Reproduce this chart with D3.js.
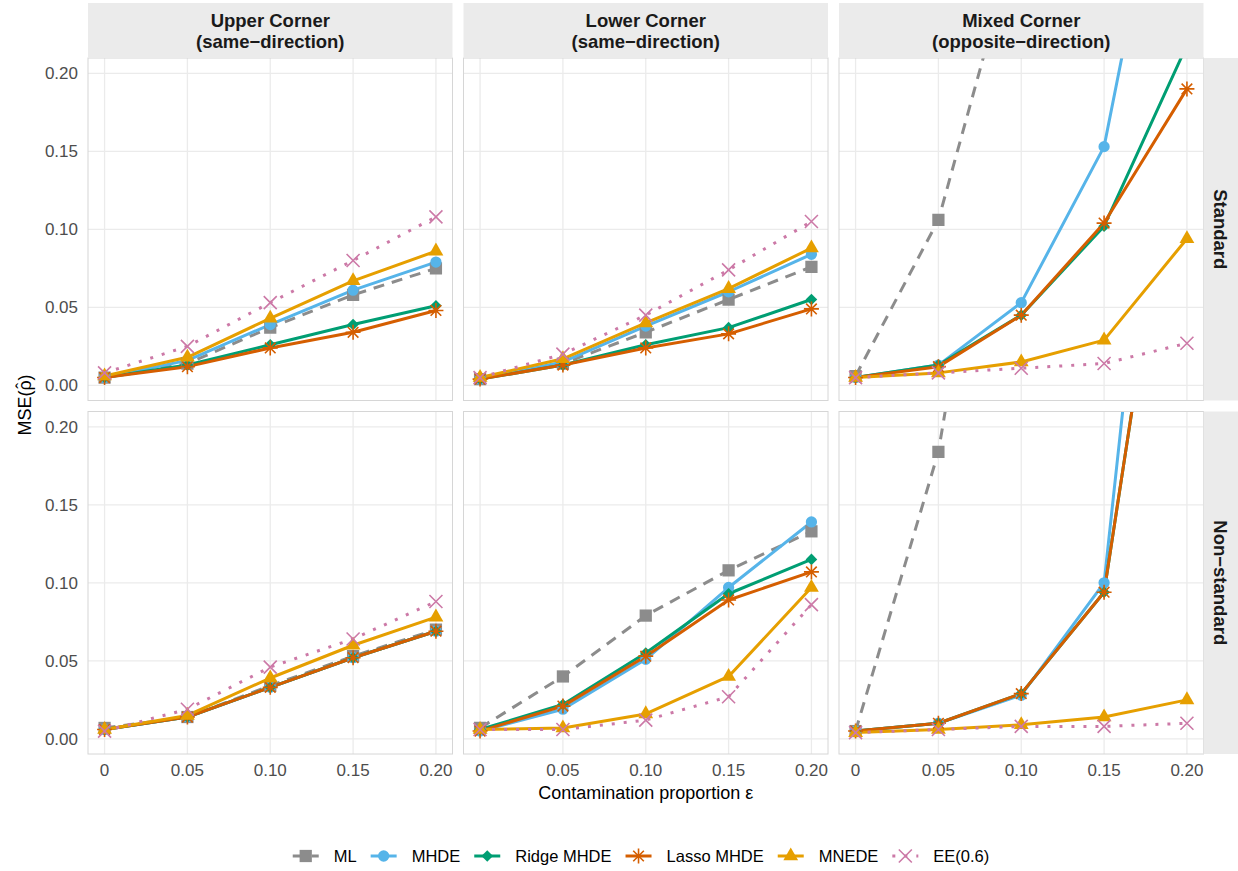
<!DOCTYPE html>
<html>
<head>
<meta charset="utf-8">
<script src="https://cdn.jsdelivr.net/npm/d3@7/dist/d3.min.js"></script>
<style>
  body { margin: 0; background: #fff; }
  svg text { font-family: "Liberation Sans", Arial, Helvetica, sans-serif; }
</style>
</head>
<body>
<div id="chart"></div>
<script>
/**
 * data
 */

const epsilon = [0, 0.05, 0.10, 0.15, 0.20];
const xTickLabels = ["0", "0.05", "0.10", "0.15", "0.20"];
const yTicks = [0, 0.05, 0.10, 0.15, 0.20];
const yTickLabels = ["0.00", "0.05", "0.10", "0.15", "0.20"];

const corners = ["Upper Corner\n(same\u2212direction)", "Lower Corner\n(same\u2212direction)", "Mixed Corner\n(opposite\u2212direction)"];
const designs = ["Standard", "Non\u2212standard"];
const methods = ["ML", "MHDE", "Ridge MHDE", "Lasso MHDE", "MNEDE", "EE(0.6)"];

// rows: upper/std, lower/std, mixed/std, upper/non, lower/non, mixed/non
const mlMSE = [
    [0.005, 0.014, 0.037, 0.058, 0.075],
    [0.004, 0.014, 0.034, 0.055, 0.076],
    [0.006, 0.106, 0.298, 0.520, 0.750],
    [0.007, 0.014, 0.034, 0.053, 0.070],
    [0.007, 0.040, 0.079, 0.108, 0.133],
    [0.005, 0.184, 0.500, 0.780, 0.950]
];
const mhdeMSE = [
    [0.005, 0.016, 0.039, 0.061, 0.079],
    [0.004, 0.015, 0.038, 0.060, 0.084],
    [0.005, 0.013, 0.053, 0.153, 0.420],
    [0.006, 0.014, 0.033, 0.052, 0.069],
    [0.005, 0.019, 0.051, 0.097, 0.139],
    [0.005, 0.010, 0.028, 0.100, 0.590]
];
const ridgeMSE = [
    [0.005, 0.013, 0.026, 0.039, 0.051],
    [0.004, 0.013, 0.026, 0.037, 0.055],
    [0.005, 0.013, 0.045, 0.102, 0.218],
    [0.006, 0.014, 0.033, 0.052, 0.069],
    [0.006, 0.022, 0.055, 0.093, 0.115],
    [0.005, 0.010, 0.029, 0.094, 0.440]
];
const lassoMSE = [
    [0.005, 0.012, 0.024, 0.034, 0.048],
    [0.004, 0.013, 0.024, 0.033, 0.049],
    [0.005, 0.012, 0.045, 0.104, 0.190],
    [0.006, 0.014, 0.033, 0.052, 0.069],
    [0.005, 0.021, 0.053, 0.089, 0.107],
    [0.005, 0.010, 0.029, 0.094, 0.440]
];
const mnedeMSE = [
    [0.006, 0.018, 0.043, 0.067, 0.086],
    [0.005, 0.017, 0.040, 0.062, 0.088],
    [0.005, 0.008, 0.015, 0.029, 0.094],
    [0.006, 0.015, 0.039, 0.060, 0.078],
    [0.006, 0.007, 0.016, 0.040, 0.097],
    [0.004, 0.006, 0.009, 0.014, 0.025]
];
const eeMSE = [
    [0.008, 0.025, 0.053, 0.080, 0.108],
    [0.005, 0.020, 0.045, 0.074, 0.105],
    [0.005, 0.008, 0.011, 0.014, 0.027],
    [0.005, 0.019, 0.046, 0.064, 0.088],
    [0.006, 0.006, 0.012, 0.027, 0.086],
    [0.004, 0.006, 0.008, 0.008, 0.010]
];

const seriesValues = [mlMSE, mhdeMSE, ridgeMSE, lassoMSE, mnedeMSE, eeMSE];

/**
 * layout and style
 */

const WIDTH = 1238;
const HEIGHT = 871;
const PANEL_X = [88, 463.5, 839];
const PANEL_Y = [58, 411.5];
const PANEL_W = 364.5;
const PANEL_H = 342.5;
const STRIP_TOP = 3;
const STRIP_RIGHT_W = WIDTH - (PANEL_X[2] + PANEL_W);

const COLORS = ["#8C8C8C", "#56B4E9", "#009E73", "#D55E00", "#E69F00", "#CC79A7"];
const DASHES = ["11,8", null, null, null, null, "3,9"];
const LINE_W = 3;

const svg = d3.select("#chart").append("svg")
    .attr("width", WIDTH)
    .attr("height", HEIGHT);

svg.append("rect").attr("width", WIDTH).attr("height", HEIGHT).attr("fill", "#fff");

// marker paths
function markerPath(i) {
    if (i === 0) return d3.symbol(d3.symbolSquare, 150)();
    if (i === 1) return d3.symbol(d3.symbolCircle, 100)();
    if (i === 2) { const r = 5.8; return `M0,${-r}L${r},0L0,${r}L${-r},0Z`; }
    if (i === 3) {
        const r = 7.5, d = r * Math.SQRT1_2;
        return `M${-r},0L${r},0M0,${-r}L0,${r}M${-d},${-d}L${d},${d}M${-d},${d}L${d},${-d}`;
    }
    if (i === 4) return d3.symbol(d3.symbolTriangle, 95)();
    const r = 6.5;
    return `M${-r},${-r}L${r},${r}M${-r},${r}L${r},${-r}`;
}

function drawMarker(g, i, x, y) {
    const stroked = (i === 3 || i === 5);
    g.append("path")
        .attr("d", markerPath(i))
        .attr("transform", `translate(${x},${y})`)
        .attr("fill", stroked ? "none" : COLORS[i])
        .attr("stroke", stroked ? COLORS[i] : "none")
        .attr("stroke-width", stroked ? 1.6 : 0);
}

const defs = svg.append("defs");

designs.forEach((design, r) => {
    corners.forEach((corner, c) => {
        const px = PANEL_X[c], py = PANEL_Y[r];
        const idx = r * 3 + c;

        const x = d3.scaleLinear().domain([-0.01, 0.21]).range([0, PANEL_W]);
        const y = d3.scaleLinear().domain([-0.0097, 0.2098]).range([PANEL_H, 0]);

        const g = svg.append("g").attr("transform", `translate(${px},${py})`);

        g.append("rect")
            .attr("width", PANEL_W).attr("height", PANEL_H)
            .attr("fill", "#fff");

        // grid
        g.selectAll(".gy").data(yTicks).enter().append("line")
            .attr("x1", 0).attr("x2", PANEL_W)
            .attr("y1", d => y(d)).attr("y2", d => y(d))
            .attr("stroke", "#EBEBEB").attr("stroke-width", 1.3);
        g.selectAll(".gx").data(epsilon).enter().append("line")
            .attr("y1", 0).attr("y2", PANEL_H)
            .attr("x1", d => x(d)).attr("x2", d => x(d))
            .attr("stroke", "#EBEBEB").attr("stroke-width", 1.3);

        const clipId = "clip" + idx;
        defs.append("clipPath").attr("id", clipId)
            .append("rect").attr("width", PANEL_W).attr("height", PANEL_H);

        const plot = g.append("g").attr("clip-path", `url(#${clipId})`);

        const line = d3.line().x((d, i) => x(epsilon[i])).y(d => y(d));

        seriesValues.forEach((vals, m) => {
            plot.append("path")
                .datum(vals[idx])
                .attr("d", line)
                .attr("fill", "none")
                .attr("stroke", COLORS[m])
                .attr("stroke-width", LINE_W)
                .attr("stroke-linejoin", "round")
                .attr("stroke-dasharray", DASHES[m]);
        });
        seriesValues.forEach((vals, m) => {
            vals[idx].forEach((v, i) => drawMarker(plot, m, x(epsilon[i]), y(v)));
        });

        g.append("rect")
            .attr("width", PANEL_W).attr("height", PANEL_H)
            .attr("fill", "none").attr("stroke", "#D6D6D6").attr("stroke-width", 1);

        // y labels on first column
        if (c === 0) {
            g.selectAll(".yl").data(yTicks).enter().append("text")
                .attr("x", -10).attr("y", d => y(d))
                .attr("dy", "0.36em")
                .attr("text-anchor", "end")
                .attr("font-size", 17).attr("fill", "#4D4D4D")
                .text((d, i) => yTickLabels[i]);
        }
        // x labels on bottom row
        if (r === 1) {
            g.selectAll(".xl").data(epsilon).enter().append("text")
                .attr("x", d => x(d)).attr("y", PANEL_H + 22)
                .attr("text-anchor", "middle")
                .attr("font-size", 17).attr("fill", "#4D4D4D")
                .text((d, i) => xTickLabels[i]);
        }
        // top strips
        if (r === 0) {
            const s = svg.append("g").attr("transform", `translate(${px},${STRIP_TOP})`);
            s.append("rect").attr("width", PANEL_W).attr("height", PANEL_Y[0] - STRIP_TOP)
                .attr("fill", "#EBEBEB");
            corner.split("\n").forEach((t, k) => {
                s.append("text")
                    .attr("x", PANEL_W / 2).attr("y", 24 + k * 21)
                    .attr("text-anchor", "middle")
                    .attr("font-size", 18.5).attr("font-weight", "bold").attr("fill", "#1A1A1A")
                    .text(t);
            });
        }
        // right strips
        if (c === 2) {
            const s = svg.append("g").attr("transform", `translate(${px + PANEL_W},${py})`);
            s.append("rect").attr("width", STRIP_RIGHT_W).attr("height", PANEL_H)
                .attr("fill", "#EBEBEB");
            s.append("text")
                .attr("transform", `translate(${STRIP_RIGHT_W / 2},${PANEL_H / 2}) rotate(90)`)
                .attr("text-anchor", "middle").attr("dy", "0.35em")
                .attr("font-size", 18.5).attr("font-weight", "bold").attr("fill", "#1A1A1A")
                .text(design);
        }
    });
});

// axis titles
svg.append("text")
    .attr("x", PANEL_X[1] + PANEL_W / 2).attr("y", 799)
    .attr("text-anchor", "middle")
    .attr("font-size", 18).attr("fill", "#000")
    .text("Contamination proportion \u03B5");

// MSE(rho-hat): hat placed by hand over the rho
const yTitle = svg.append("text")
    .attr("transform", `translate(31,405) rotate(-90)`)
    .attr("text-anchor", "middle")
    .attr("font-size", 18).attr("fill", "#000");
yTitle.append("tspan").text("MSE(\u03C1");
yTitle.append("tspan").attr("dx", "-0.47em").attr("dy", "-0.12em").text("\u02C6");
yTitle.append("tspan").attr("dx", "0.12em").attr("dy", "0.12em").text(")");

// legend
const KEY_W = 26, KEY_GAP = 15, ITEM_GAP = 14, LEG_Y = 856, LEG_CX = 641;
const LEG_FONT = 16.5;
const leg = svg.append("g");
const widths = methods.map(m => {
    const t = leg.append("text").attr("font-size", LEG_FONT).text(m);
    const w = t.node().getComputedTextLength();
    t.remove();
    return w;
});
const total = d3.sum(widths) + methods.length * (KEY_W + KEY_GAP) + (methods.length - 1) * ITEM_GAP;
let cx = LEG_CX - total / 2;
methods.forEach((m, i) => {
    leg.append("line")
        .attr("x1", cx).attr("x2", cx + KEY_W)
        .attr("y1", LEG_Y).attr("y2", LEG_Y)
        .attr("stroke", COLORS[i]).attr("stroke-width", LINE_W)
        .attr("stroke-dasharray", DASHES[i]);
    drawMarker(leg, i, cx + KEY_W / 2, LEG_Y);
    leg.append("text")
        .attr("x", cx + KEY_W + KEY_GAP).attr("y", LEG_Y).attr("dy", "0.36em")
        .attr("font-size", LEG_FONT).attr("fill", "#000")
        .text(m);
    cx += KEY_W + KEY_GAP + widths[i] + ITEM_GAP;
});
</script>
</body>
</html>
